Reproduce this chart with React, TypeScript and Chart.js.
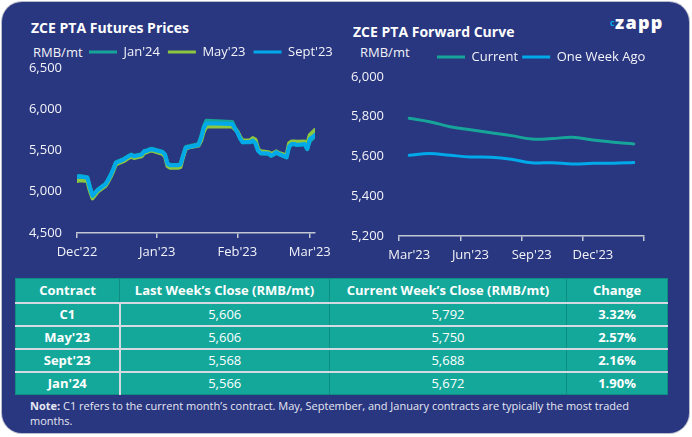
import React, { useEffect, useRef } from "react";
import { Chart, registerables } from "chart.js";

Chart.register(...registerables);

// ---------------- DATA ----------------
const futuresDates = [
  "2022-12-01", "2022-12-02", "2022-12-05", "2022-12-06", "2022-12-07", "2022-12-08", "2022-12-09",
  "2022-12-12", "2022-12-13", "2022-12-14", "2022-12-15", "2022-12-16",
  "2022-12-19", "2022-12-20", "2022-12-21", "2022-12-22", "2022-12-23",
  "2022-12-26", "2022-12-27", "2022-12-28", "2022-12-29", "2022-12-30",
  "2023-01-03", "2023-01-04", "2023-01-05", "2023-01-06",
  "2023-01-09", "2023-01-10", "2023-01-11", "2023-01-12", "2023-01-13",
  "2023-01-16", "2023-01-17", "2023-01-18", "2023-01-19", "2023-01-20",
  "2023-01-30", "2023-01-31", "2023-02-01", "2023-02-02", "2023-02-03",
  "2023-02-06", "2023-02-07", "2023-02-08", "2023-02-09", "2023-02-10",
  "2023-02-13", "2023-02-14", "2023-02-15", "2023-02-16", "2023-02-17",
  "2023-02-20", "2023-02-21", "2023-02-22", "2023-02-23", "2023-02-24",
  "2023-02-27", "2023-02-28", "2023-03-01", "2023-03-02", "2023-03-03",
];
const jan24 = [
  5185, 5190, 5175, 5060, 4960, 4990, 5025,
  5095, 5145, 5205, 5275, 5355,
  5395, 5415, 5435, 5450, 5435,
  5455, 5495, 5500, 5515, 5520,
  5485, 5455, 5345, 5325,
  5325, 5335, 5440, 5540, 5550,
  5570, 5580, 5670, 5790, 5860,
  5845, 5780, 5725, 5650, 5600,
  5600, 5615, 5585, 5495, 5465,
  5460, 5435, 5450, 5475, 5455,
  5415, 5545, 5575, 5575, 5566,
  5575, 5515, 5615, 5645, 5672,
];
const may23 = [
  5130, 5140, 5130, 5010, 4920, 4960, 5000,
  5070, 5120, 5180, 5250, 5330,
  5370, 5390, 5410, 5425, 5410,
  5430, 5470, 5480, 5495, 5500,
  5460, 5430, 5310, 5290,
  5290, 5300, 5420, 5520, 5535,
  5555, 5560, 5620, 5730, 5790,
  5790, 5760, 5730, 5670, 5620,
  5625, 5650, 5630, 5520, 5490,
  5480, 5460, 5470, 5490, 5470,
  5440, 5590, 5610, 5610, 5606,
  5610, 5580, 5690, 5720, 5750,
];
const sept23 = [
  5180, 5185, 5170, 5050, 4950, 4985, 5020,
  5090, 5140, 5200, 5270, 5350,
  5390, 5410, 5430, 5445, 5430,
  5450, 5490, 5495, 5510, 5515,
  5480, 5450, 5340, 5320,
  5320, 5330, 5430, 5530, 5540,
  5560, 5570, 5650, 5770, 5830,
  5820, 5770, 5720, 5650, 5600,
  5605, 5620, 5590, 5500, 5470,
  5465, 5440, 5455, 5480, 5460,
  5420, 5550, 5580, 5580, 5568,
  5580, 5520, 5640, 5660, 5688,
];
const futuresTickDates = ["2022-12-01", "2023-01-01", "2023-02-01", "2023-03-01"];
const futuresTickLabels = ["Dec'22", "Jan'23", "Feb'23", "Mar'23"];

const curveMonths = [
  "Mar'23", "Apr'23", "May'23", "Jun'23", "Jul'23", "Aug'23",
  "Sep'23", "Oct'23", "Nov'23", "Dec'23", "Jan'24", "Feb'24",
];
const curveCurrent = [5792, 5775, 5750, 5735, 5720, 5705, 5688, 5690, 5697, 5683, 5672, 5663];
const curveWeekAgo = [5606, 5615, 5606, 5598, 5596, 5586, 5568, 5569, 5562, 5566, 5566, 5570];

const tableContracts = ["C1", "May'23", "Sept'23", "Jan'24"];
const lastWeekClose = [5606, 5606, 5568, 5566];
const currentWeekClose = [5792, 5750, 5688, 5672];

// ---------------- STYLE ----------------
const FONT = "'Open Sans', sans-serif";
const NAVY = "#293680";
const TEAL_LINE = "#17a59a";
const GREEN_LINE = "#8dc63f";
const BLUE_LINE = "#00aaea";
const TABLE_BG = "#14a89b";
const TABLE_DARK = "#0f8d82";
const TABLE_LIGHT = "#d5d9e2";
const TICK_TEXT = "#f2f3f8";
const AXIS = "#c3c7d4";

const dayOf = (s: string) => {
  const [y, m, d] = s.split("-").map(Number);
  return Math.round((Date.UTC(y, m - 1, d) - Date.UTC(2022, 11, 1)) / 86400000);
};
const fmt = (v: number) => v.toLocaleString("en-US");

const legendPlacer = {
  id: "legendPlacer",
  afterLayout(chart: any, _args: any, opts: any) {
    const lg = chart.legend;
    if (!lg || !opts || opts.x == null) return;
    const pad = lg.options.labels.padding;
    lg.left = opts.x - pad;
    lg.right = lg.left + 2000;
    lg.top = opts.cy - pad - 13 / 2;
  },
};

const legendLabels = (padding: number) => ({
  color: TICK_TEXT,
  font: { family: FONT, size: 13 },
  boxWidth: 28,
  boxHeight: 3,
  padding,
  sort: (a: any, b: any) => a.datasetIndex - b.datasetIndex,
  generateLabels: (chart: any) =>
    Chart.defaults.plugins.legend.labels.generateLabels(chart).map((l: any) => ({
      ...l,
      lineWidth: 0,
      fillStyle: chart.data.datasets[l.datasetIndex].borderColor,
    })),
});

function FuturesChart() {
  const ref = useRef<HTMLCanvasElement>(null);
  useEffect(() => {
    const mk = (vals: number[]) => futuresDates.map((d, i) => ({ x: dayOf(d), y: vals[i] }));
    const tickDays = futuresTickDates.map(dayOf);
    const chart = new Chart(ref.current!, {
      type: "line",
      data: {
        datasets: [
          { label: "Jan'24", data: mk(jan24), borderColor: TEAL_LINE, backgroundColor: TEAL_LINE, order: 2 },
          { label: "May'23", data: mk(may23), borderColor: GREEN_LINE, backgroundColor: GREEN_LINE, order: 1 },
          { label: "Sept'23", data: mk(sept23), borderColor: BLUE_LINE, backgroundColor: BLUE_LINE, order: 0 },
        ],
      },
      options: {
        animation: false,
        responsive: true,
        maintainAspectRatio: false,
        layout: { padding: { top: 7, right: 30, bottom: 2, left: 0 } },
        elements: {
          point: { radius: 0 },
          line: { borderWidth: 4, tension: 0, borderJoinStyle: "round", borderCapStyle: "round" },
        },
        plugins: {
          legend: { display: true, position: "top", align: "start", labels: legendLabels(8) as any },
          tooltip: { enabled: false },
          legendPlacer: { x: 69, cy: 22 },
        } as any,
        scales: {
          x: {
            type: "linear",
            min: 0,
            max: dayOf(futuresDates[futuresDates.length - 1]),
            afterBuildTicks: (s: any) => {
              s.ticks = tickDays.map((v) => ({ value: v }));
            },
            afterFit: (s: any) => {
              s.height = 30;
            },
            ticks: {
              autoSkip: false,
              maxRotation: 0,
              color: TICK_TEXT,
              font: { family: FONT, size: 13 },
              padding: 6,
              callback: (v: any) => futuresTickLabels[tickDays.indexOf(Number(v))] ?? "",
            },
            grid: { display: true, drawOnChartArea: false, drawTicks: true, tickLength: 5, color: AXIS, lineWidth: 1.5 },
            border: { display: true, color: AXIS, width: 1.5 },
          },
          y: {
            min: 4500,
            max: 6500,
            afterFit: (s: any) => {
              s.width = 57;
            },
            ticks: {
              stepSize: 500,
              color: TICK_TEXT,
              font: { family: FONT, size: 13 },
              padding: 15,
              callback: (v: any) => fmt(Number(v)),
            },
            grid: { display: false, drawTicks: false },
            border: { display: false },
          },
        },
      },
      plugins: [legendPlacer],
    } as any);
    return () => chart.destroy();
  }, []);
  return (
    <div style={{ position: "absolute", left: 20, top: 30, width: 325, height: 235 }}>
      <canvas ref={ref} />
    </div>
  );
}

function CurveChart() {
  const ref = useRef<HTMLCanvasElement>(null);
  useEffect(() => {
    const gridColor = (ctx: any) =>
      ctx.index === undefined || ctx.index % 3 === 0 ? AXIS : "rgba(0,0,0,0)";
    const chart = new Chart(ref.current!, {
      type: "line",
      data: {
        labels: curveMonths,
        datasets: [
          { label: "Current", data: curveCurrent, borderColor: TEAL_LINE, backgroundColor: TEAL_LINE },
          { label: "One Week Ago", data: curveWeekAgo, borderColor: BLUE_LINE, backgroundColor: BLUE_LINE },
        ],
      },
      options: {
        animation: false,
        responsive: true,
        maintainAspectRatio: false,
        layout: { padding: { top: 10, right: 12, bottom: 4, left: 0 } },
        elements: {
          point: { radius: 0 },
          line: { borderWidth: 3, tension: 0.4, borderCapStyle: "round" },
        },
        plugins: {
          legend: { display: true, position: "top", align: "start", labels: legendLabels(4) as any },
          tooltip: { enabled: false },
          legendPlacer: { x: 91, cy: 17 },
        } as any,
        scales: {
          x: {
            type: "category",
            offset: true,
            afterFit: (s: any) => {
              s.height = 30;
            },
            ticks: {
              autoSkip: false,
              maxRotation: 0,
              color: TICK_TEXT,
              font: { family: FONT, size: 13 },
              padding: 6,
              callback: (_v: any, i: number) => (i % 3 === 0 ? curveMonths[i] : ""),
            },
            grid: {
              display: true,
              offset: true,
              drawOnChartArea: false,
              drawTicks: true,
              tickLength: 5,
              color: gridColor,
              tickColor: gridColor,
              lineWidth: 1.5,
            },
            border: { display: true, color: AXIS, width: 1.5 },
          },
          y: {
            min: 5200,
            max: 6000,
            afterFit: (s: any) => {
              s.width = 53;
            },
            ticks: {
              stepSize: 200,
              color: TICK_TEXT,
              font: { family: FONT, size: 13 },
              padding: 15,
              callback: (v: any) => fmt(Number(v)),
            },
            grid: { display: false, drawTicks: false },
            border: { display: false },
          },
        },
      },
      plugins: [legendPlacer],
    } as any);
    return () => chart.destroy();
  }, []);
  return (
    <div style={{ position: "absolute", left: 346, top: 40, width: 310, height: 230 }}>
      <canvas ref={ref} />
    </div>
  );
}

const cellBase: React.CSSProperties = {
  color: "#ffffff",
  fontSize: 13,
  textAlign: "center",
  padding: 0,
  whiteSpace: "nowrap",
};

function PriceTable() {
  const widths = [104, 210, 237, 101];
  const hLine = `2px solid ${TABLE_LIGHT}`;
  const darkV = `1px solid ${TABLE_DARK}`;
  return (
    <table
      style={{
        position: "absolute",
        left: 15,
        top: 278,
        width: 652,
        borderCollapse: "collapse",
        tableLayout: "fixed",
        background: TABLE_BG,
        fontFamily: FONT,
        border: `1px solid ${TABLE_DARK}`,
      }}
    >
      <colgroup>
        {widths.map((w, i) => (
          <col key={i} style={{ width: w }} />
        ))}
      </colgroup>
      <thead>
        <tr style={{ height: 24 }}>
          {["Contract", "Last Week\u2019s Close (RMB/mt)", "Current Week\u2019s Close (RMB/mt)", "Change"].map((h, i) => (
            <th
              key={i}
              style={{
                ...cellBase,
                fontWeight: 700,
                borderBottom: hLine,
                borderRight: i < 3 ? darkV : "none",
              }}
            >
              {h}
            </th>
          ))}
        </tr>
      </thead>
      <tbody>
        {tableContracts.map((c, r) => {
          const last = r === tableContracts.length - 1;
          const chg = (((currentWeekClose[r] - lastWeekClose[r]) / lastWeekClose[r]) * 100).toFixed(2) + "%";
          const bb = last ? "none" : hLine;
          return (
            <tr key={c} style={{ height: 23 }}>
              <td style={{ ...cellBase, fontWeight: 700, borderBottom: bb, borderRight: `2px solid ${TABLE_LIGHT}` }}>{c}</td>
              <td style={{ ...cellBase, borderBottom: bb, borderRight: darkV }}>{fmt(lastWeekClose[r])}</td>
              <td style={{ ...cellBase, borderBottom: bb, borderRight: darkV }}>{fmt(currentWeekClose[r])}</td>
              <td style={{ ...cellBase, fontWeight: 700, borderBottom: bb }}>{chg}</td>
            </tr>
          );
        })}
      </tbody>
    </table>
  );
}

export default function App() {
  const title: React.CSSProperties = {
    position: "absolute",
    color: "#ffffff",
    fontWeight: 700,
    fontSize: 14,
    lineHeight: "18px",
    whiteSpace: "nowrap",
  };
  const unit: React.CSSProperties = {
    position: "absolute",
    color: TICK_TEXT,
    fontSize: 13,
    lineHeight: "16px",
    whiteSpace: "nowrap",
  };
  return (
    <div
      style={{
        position: "absolute",
        left: 0,
        top: 0,
        width: 692,
        height: 437,
        background: "#ffffff",
        fontFamily: FONT,
        overflow: "hidden",
      }}
    >
      <div
        style={{
          position: "absolute",
          left: 2,
          top: 2,
          width: 687,
          height: 431,
          borderRadius: 20,
          background: NAVY,
          boxShadow: "0 0 0 1px #b8bccb",
        }}
      />
      <div style={{ ...title, left: 31, top: 19 }}>ZCE PTA Futures Prices</div>
      <div style={{ ...title, left: 353, top: 23 }}>ZCE PTA Forward Curve</div>
      <div style={{ ...unit, left: 33, top: 44 }}>RMB/mt</div>
      <div style={{ ...unit, left: 360, top: 44 }}>RMB/mt</div>
      <div
        style={{
          position: "absolute",
          left: 610,
          top: 18,
          color: BLUE_LINE,
          fontWeight: 700,
          fontSize: 9,
          lineHeight: "9px",
        }}
      >
        c
      </div>
      <div
        style={{
          position: "absolute",
          left: 615,
          top: 13,
          color: "#ffffff",
          fontWeight: 800,
          fontSize: 18,
          lineHeight: "18px",
          letterSpacing: 1.3,
          whiteSpace: "nowrap",
        }}
      >
        zapp
      </div>
      <FuturesChart />
      <CurveChart />
      <PriceTable />
      <div
        style={{
          position: "absolute",
          left: 30,
          top: 398,
          width: 600,
          fontSize: 11,
          lineHeight: "15px",
          color: "#e6e8f1",
        }}
      >
        <b>Note:</b> C1 refers to the current month{"\u2019"}s contract. May, September, and January contracts are typically the most traded months.
      </div>
    </div>
  );
}
